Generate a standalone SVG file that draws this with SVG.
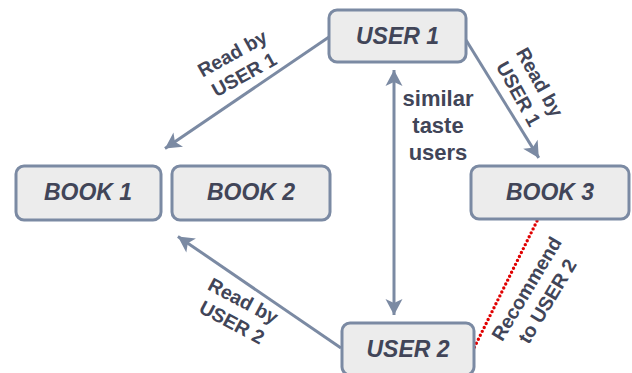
<svg xmlns="http://www.w3.org/2000/svg" width="632" height="373" viewBox="0 0 632 373">
  <style>
    .box { fill: #ececec; stroke: #7b8aa3; stroke-width: 3; }
    .node-label { font-family: "Liberation Sans", Arial, sans-serif; font-size: 23px; font-weight: bold; font-style: italic; fill: #414558; text-anchor: middle; }
    .edge { fill: none; stroke: #7b8aa3; stroke-width: 3; }
    .edge-label { font-family: "Liberation Sans", Arial, sans-serif; font-size: 19.5px; font-weight: bold; fill: #414558; text-anchor: middle; }
    .big-label { font-family: "Liberation Sans", Arial, sans-serif; font-size: 22px; font-weight: bold; fill: #414558; text-anchor: middle; }
    .recommend { fill: none; stroke: #e00000; stroke-width: 3.4; stroke-linecap: round; stroke-dasharray: 0 4.4; }
  </style>
  <defs>
    <marker id="arrow" markerUnits="userSpaceOnUse" viewBox="-18 -10 20 20" refX="0" refY="0" markerWidth="20" markerHeight="20" orient="auto-start-reverse">
      <path d="M0,0 L-16,-8.5 L-12,0 L-16,8.5 Z" fill="#7b8aa3"/>
    </marker>
  </defs>

  <!-- connectors -->
  <g id="connectors">
    <line class="edge" x1="329" y1="37" x2="165" y2="148.6" marker-end="url(#arrow)"/>
    <line class="edge" x1="466" y1="40" x2="538.8" y2="157.9" marker-end="url(#arrow)"/>
    <line class="edge" x1="394" y1="70" x2="394" y2="315" marker-start="url(#arrow)" marker-end="url(#arrow)"/>
    <line class="edge" x1="341" y1="348" x2="177.9" y2="236.4" marker-end="url(#arrow)"/>
    <line class="recommend" x1="537" y1="221" x2="474" y2="348"/>

    <text class="edge-label" transform="translate(238.3 64.2) rotate(-29)"><tspan x="0" y="-5.5">Read by</tspan><tspan x="0" y="18.7">USER 1</tspan></text>
    <text class="edge-label" transform="translate(529 88) rotate(61)"><tspan x="0" y="-5.5">Read by</tspan><tspan x="0" y="18.7">USER 1</tspan></text>
    <text class="edge-label" transform="translate(237.5 311.7) rotate(28)"><tspan x="0" y="-5.5">Read by</tspan><tspan x="0" y="18.7">USER 2</tspan></text>
    <text class="edge-label" transform="translate(537 295) rotate(-59)"><tspan x="0" y="-5.5">Recommend</tspan><tspan x="0" y="18.7">to USER 2</tspan></text>
    <text class="big-label"><tspan x="438" y="106">similar</tspan><tspan x="438" y="133">taste</tspan><tspan x="438" y="160">users</tspan></text>
  </g>

  <!-- nodes -->
  <g id="user1">
    <rect class="box" x="329" y="10" width="137" height="52" rx="8"/>
    <text class="node-label" x="397.5" y="44">USER 1</text>
  </g>
  <g id="book1">
    <rect class="box" x="16" y="166" width="145" height="54" rx="8"/>
    <text class="node-label" x="88" y="200">BOOK 1</text>
  </g>
  <g id="book2">
    <rect class="box" x="172" y="166" width="158" height="54" rx="8"/>
    <text class="node-label" x="251" y="200">BOOK 2</text>
  </g>
  <g id="book3">
    <rect class="box" x="471" y="166" width="158" height="53" rx="8"/>
    <text class="node-label" x="550" y="200">BOOK 3</text>
  </g>
  <g id="user2">
    <rect class="box" x="342" y="323" width="132" height="52" rx="8"/>
    <text class="node-label" x="408" y="357">USER 2</text>
  </g>
</svg>
